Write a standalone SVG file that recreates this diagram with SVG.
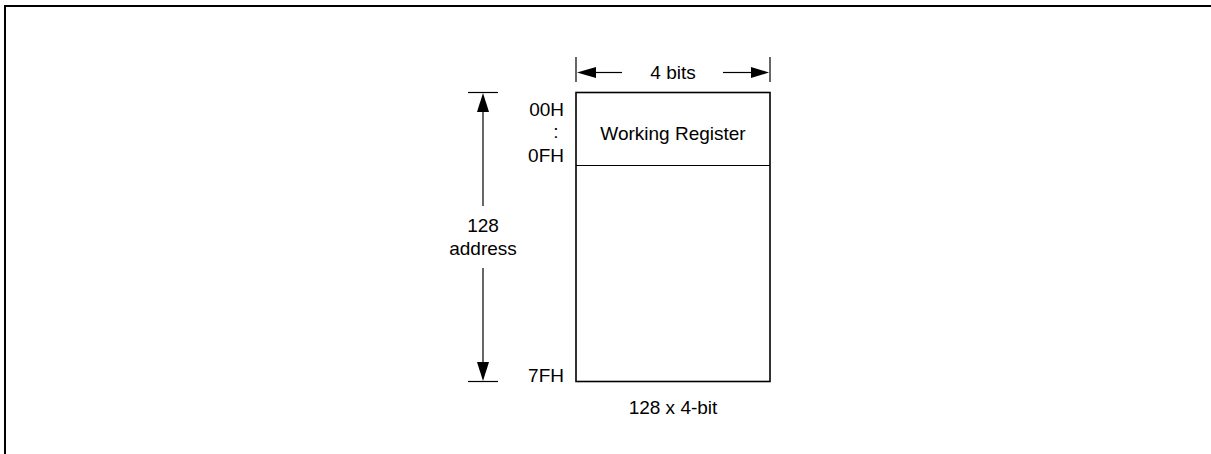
<svg xmlns="http://www.w3.org/2000/svg" width="1211" height="454" viewBox="0 0 1211 454">
<style>
text{font-family:"Liberation Sans",Arial,sans-serif;font-size:19px;fill:#000}
.ln{stroke:#000;stroke-width:1.2;fill:none}
.bx{stroke:#000;stroke-width:1.6;fill:#fff}
.ah{fill:#000}
</style>
<rect width="1211" height="454" fill="#fff"/>
<path d="M5,454 V6 H1211" fill="none" stroke="#000" stroke-width="2"/>
<g id="memory">
<rect class="bx" x="576" y="92.5" width="194" height="289"/>
<line class="ln" x1="576" y1="165.5" x2="770" y2="165.5" stroke-width="1.6"/>
<text x="673" y="140" text-anchor="middle">Working Register</text>
<text x="673" y="414" text-anchor="middle">128 x 4-bit</text>
</g>
<g id="addr-labels">
<text x="564" y="115.5" text-anchor="end">00H</text>
<text x="556" y="138" text-anchor="middle">:</text>
<text x="564" y="161.5" text-anchor="end">0FH</text>
<text x="564" y="381.5" text-anchor="end">7FH</text>
</g>
<g id="connectors">
<line class="ln" x1="576" y1="57" x2="576" y2="82"/>
<line class="ln" x1="770" y1="57" x2="770" y2="82"/>
<line class="ln" x1="594" y1="72.5" x2="622" y2="72.5"/>
<line class="ln" x1="723" y1="72.5" x2="752" y2="72.5"/>
<polygon class="ah" points="577,72.5 596,67 596,78"/>
<polygon class="ah" points="769,72.5 751,67 751,78"/>
<line class="ln" x1="468" y1="92.5" x2="498" y2="92.5"/>
<line class="ln" x1="468" y1="381.5" x2="498" y2="381.5"/>
<line class="ln" x1="483" y1="110" x2="483" y2="206"/>
<line class="ln" x1="483" y1="268" x2="483" y2="363"/>
<polygon class="ah" points="483,93 477,112 489,112"/>
<polygon class="ah" points="483,381 477,362 489,362"/>
</g>
<g id="dim-labels">
<text x="673" y="78.5" text-anchor="middle">4 bits</text>
<text x="483" y="232" text-anchor="middle">128</text>
<text x="483" y="255" text-anchor="middle">address</text>
</g>
</svg>
